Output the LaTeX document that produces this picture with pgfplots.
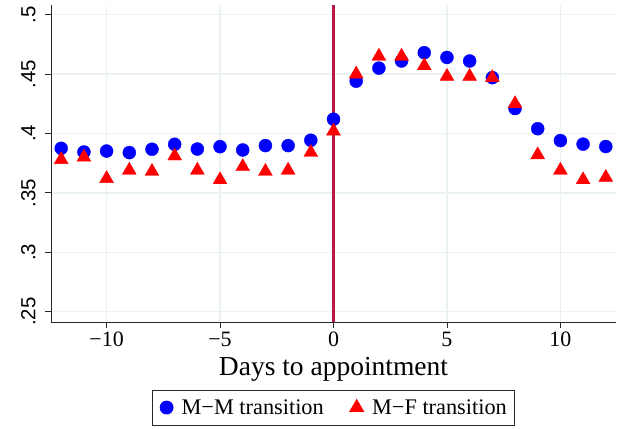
\documentclass[border=0pt]{standalone}
\usepackage{fontspec}
\setmainfont{Liberation Serif}
\setsansfont{Liberation Sans}
\usepackage{pgfplots}
\pgfplotsset{compat=1.18}
\definecolor{gridc}{RGB}{234,242,243}
\definecolor{vlinec}{RGB}{185,25,65}
\definecolor{axc}{RGB}{40,40,40}
\begin{document}
\begin{tikzpicture}
\path[use as bounding box] (-51bp,-107bp) rectangle (574bp,322bp);
\begin{axis}[
  at={(0,0)}, anchor=south west,
  scale only axis, width=565bp, height=317.3bp,
  xmin=-12.45, xmax=12.45, ymin=0.2413, ymax=0.5084,
  axis x line*=bottom, axis y line*=left,
  axis line style={axc, line width=0.9bp, -},
  xtick={-10,-5,0,5,10}, xticklabels={−10,−5,0,5,10},
  ytick={0.25,0.3,0.35,0.4,0.45,0.5}, yticklabels={.25,.3,.35,.4,.45,.5},
  tick align=outside, major tick length=5.5bp,
  tick style={axc, line width=0.9bp},
  grid=major, major grid style={gridc, line width=1.3bp},
  xticklabel style={font=\fontsize{22}{24}\selectfont, anchor=base, inner sep=0pt, yshift=-18.5bp},
  yticklabel style={font=\sffamily\fontsize{20.5}{22}\selectfont, xshift=-10bp, rotate=90, anchor=base, inner sep=0pt},
  xlabel={Days to appointment},
  xlabel style={font=\fontsize{27.6}{30}\selectfont, at={(axis description cs:0.5,0)}, anchor=base, inner sep=0pt, yshift=-53bp},
  legend style={at={(0.5,0)}, anchor=north, yshift=-67.5bp, draw=axc, line width=0.8bp,
    font=\fontsize{22.4}{24}\selectfont, legend columns=2, inner xsep=7.5bp, inner ysep=9.5bp,
    nodes={inner sep=0pt},
    /tikz/every odd column/.append style={column sep=8.5bp},
    /tikz/every even column/.append style={column sep=26bp}},
  legend cell align=left,
  legend image code/.code={\draw[mark repeat=2,mark phase=2,#1] plot coordinates {(0bp,0bp) (6.5bp,0bp) (13bp,0bp)};},
  clip=false,
]
\addplot[draw=vlinec, line width=2.3bp, mark=none, forget plot] coordinates {(0,0.2413) (0,0.5084)};
\addplot[only marks, mark=*, mark size=6.5bp, color=blue, mark options={draw=blue, fill=blue}] coordinates {
(-12,0.3875) (-11,0.3844) (-10,0.3852) (-9,0.3839) (-8,0.3867) (-7,0.3909)
(-6,0.3869) (-5,0.3889) (-4,0.3861) (-3,0.3898) (-2,0.3898) (-1,0.3943)
(0,0.412) (1,0.444) (2,0.455) (3,0.461) (4,0.468) (5,0.464) (6,0.461)
(7,0.447) (8,0.421) (9,0.404) (10,0.394) (11,0.391) (12,0.389)};
\addlegendentry{M−M transition}
\addplot[only marks, mark=triangle*, mark size=8bp, color=red, mark options={draw=red, fill=red}] coordinates {
(-12,0.378) (-11,0.380) (-10,0.362) (-9,0.369) (-8,0.368) (-7,0.381)
(-6,0.369) (-5,0.361) (-4,0.372) (-3,0.368) (-2,0.369) (-1,0.384)
(0,0.402) (1,0.450) (2,0.465) (3,0.465) (4,0.457) (5,0.448) (6,0.448)
(7,0.447) (8,0.425) (9,0.382) (10,0.369) (11,0.361) (12,0.363)};
\addlegendentry{M−F transition}
\end{axis}
\end{tikzpicture}
\end{document}
